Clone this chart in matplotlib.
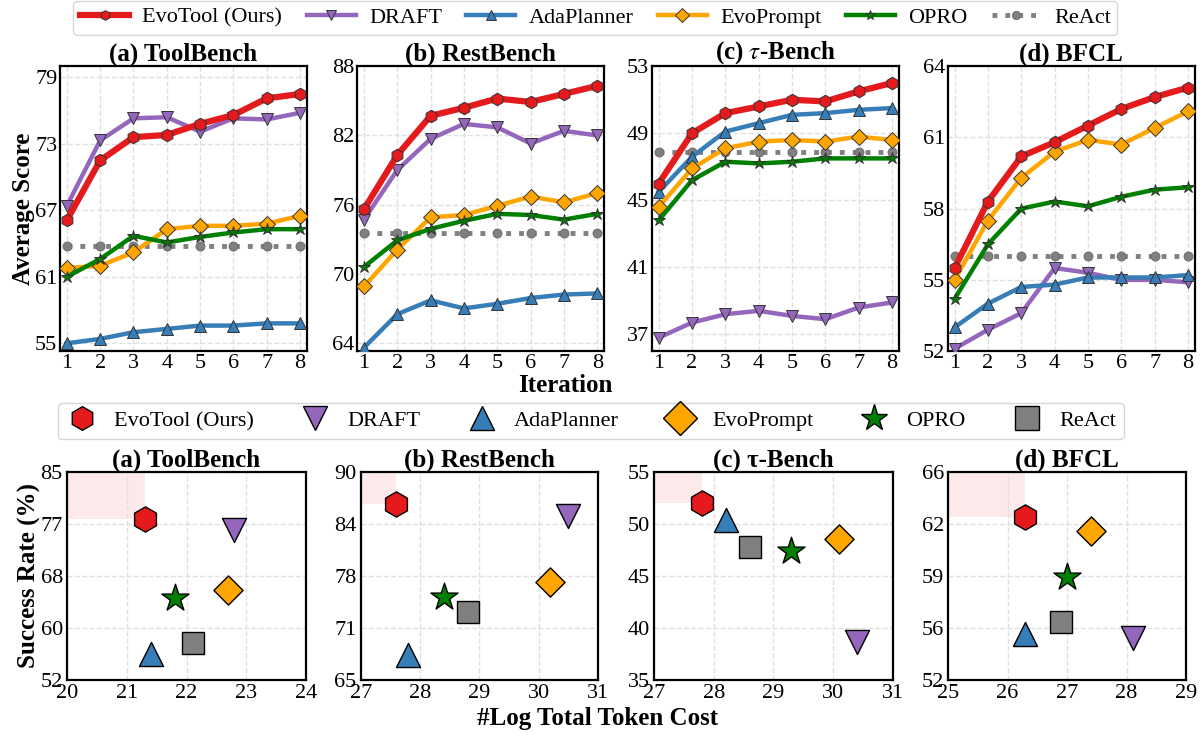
import matplotlib
matplotlib.use("Agg")
import matplotlib.pyplot as plt
from matplotlib.patches import Rectangle
from matplotlib.lines import Line2D

plt.rcParams['font.family'] = ['Liberation Serif', 'DejaVu Serif']
plt.rcParams['mathtext.fontset'] = 'stix'

# ---- data: score over iterations ----
iterations = [1, 2, 3, 4, 5, 6, 7, 8]
methods = ["EvoTool (Ours)", "DRAFT", "AdaPlanner", "EvoPrompt", "OPRO", "ReAct"]

toolbench_scores = {
    "EvoTool (Ours)": [66.1, 71.5, 73.6, 73.8, 74.8, 75.6, 77.1, 77.5],
    "DRAFT": [67.4, 73.3, 75.3, 75.4, 74.1, 75.3, 75.2, 75.8],
    "AdaPlanner": [55.0, 55.4, 56.0, 56.3, 56.6, 56.6, 56.8, 56.8],
    "EvoPrompt": [61.8, 62.0, 63.2, 65.3, 65.6, 65.6, 65.8, 66.5],
    "OPRO": [61.0, 62.6, 64.7, 64.1, 64.6, 65.0, 65.3, 65.3],
    "ReAct": [63.8] * 8,
}
restbench_scores = {
    "EvoTool (Ours)": [75.6, 80.3, 83.7, 84.4, 85.2, 84.9, 85.6, 86.3],
    "DRAFT": [74.7, 79.0, 81.7, 83.0, 82.7, 81.3, 82.4, 82.0],
    "AdaPlanner": [63.6, 66.5, 67.7, 67.0, 67.4, 67.9, 68.2, 68.3],
    "EvoPrompt": [68.9, 72.1, 74.9, 75.1, 75.9, 76.7, 76.2, 77.0],
    "OPRO": [70.6, 72.9, 73.9, 74.6, 75.2, 75.1, 74.7, 75.2],
    "ReAct": [73.5] * 8,
}
taubench_scores = {
    "EvoTool (Ours)": [46.0, 49.0, 50.2, 50.6, 51.0, 50.9, 51.5, 52.0],
    "DRAFT": [36.8, 37.7, 38.2, 38.4, 38.1, 37.9, 38.6, 38.9],
    "AdaPlanner": [45.5, 47.6, 49.1, 49.6, 50.1, 50.2, 50.4, 50.5],
    "EvoPrompt": [44.6, 46.9, 48.1, 48.5, 48.6, 48.5, 48.8, 48.6],
    "OPRO": [43.8, 46.2, 47.3, 47.2, 47.3, 47.5, 47.5, 47.5],
    "ReAct": [47.9] * 8,
}
bfcl_scores = {
    "EvoTool (Ours)": [55.5, 58.3, 60.2, 60.8, 61.5, 62.2, 62.7, 63.1],
    "DRAFT": [52.1, 52.9, 53.6, 55.5, 55.3, 55.0, 55.0, 54.9],
    "AdaPlanner": [53.0, 54.0, 54.7, 54.8, 55.1, 55.1, 55.1, 55.2],
    "EvoPrompt": [55.0, 57.5, 59.3, 60.4, 60.9, 60.7, 61.4, 62.1],
    "OPRO": [54.2, 56.5, 58.0, 58.3, 58.1, 58.5, 58.8, 58.9],
    "ReAct": [56.0] * 8,
}

# ---- data: success rate vs log token cost ----
toolbench_cost = [21.3, 22.8, 21.4, 22.7, 21.8, 22.1]
toolbench_rate = [77.5, 75.8, 56.2, 66.3, 65.0, 57.9]
restbench_cost = [27.6, 30.5, 27.8, 30.2, 28.4, 28.8]
restbench_rate = [86.2, 84.7, 68.0, 76.8, 75.0, 73.2]
taubench_cost = [27.8, 30.4, 28.2, 30.1, 29.3, 28.6]
taubench_rate = [52.0, 38.7, 50.4, 48.6, 47.4, 47.8]
bfcl_cost = [26.3, 28.1, 26.3, 27.4, 27.0, 26.9]
bfcl_rate = [63.0, 54.8, 55.1, 62.0, 58.9, 55.9]

colors = {
    "EvoTool (Ours)": "#e41a1c",
    "DRAFT": "#9467bd",
    "AdaPlanner": "#377eb8",
    "EvoPrompt": "#ffa500",
    "OPRO": "#008000",
    "ReAct": "#808080",
}
markers = {
    "EvoTool (Ours)": "h",
    "DRAFT": "v",
    "AdaPlanner": "^",
    "EvoPrompt": "D",
    "OPRO": "*",
    "ReAct": "o",
}
scatter_markers = dict(markers, ReAct="s")
scatter_sizes = {
    "EvoTool (Ours)": 330,
    "DRAFT": 300,
    "AdaPlanner": 300,
    "EvoPrompt": 220,
    "OPRO": 420,
    "ReAct": 240,
}

fig = plt.figure(figsize=(12.03, 7.36), dpi=100)

# top row: line charts
top_panels = [
    ("(a) ToolBench", toolbench_scores, (54.3, 80.0), [55, 61, 67, 73, 79]),
    ("(b) RestBench", restbench_scores, (63.3, 88.0), [64, 70, 76, 82, 88]),
    ("(c) $\\tau$-Bench", taubench_scores, (36.0, 53.0), [37, 41, 45, 49, 53]),
    ("(d) BFCL", bfcl_scores, (52.0, 64.0), [52, 55, 58, 61, 64]),
]
top_lefts = [0.050, 0.297, 0.542, 0.788]

for left, (title, scores, ylim, yticks) in zip(top_lefts, top_panels):
    ax = fig.add_axes([left, 0.523, 0.205, 0.387])
    for m in methods:
        if m == "ReAct":
            ax.plot(iterations, scores[m], linestyle=':', color=colors[m], lw=3.5,
                    marker='o', ms=6.5, mfc=colors[m], mec='#666666', mew=0.6, zorder=2)
        else:
            lw = 4.5 if m == "EvoTool (Ours)" else 3.2
            ms = 9 if m in ("EvoTool (Ours)", "OPRO") else 8
            ax.plot(iterations, scores[m], color=colors[m], lw=lw, marker=markers[m],
                    ms=ms, mfc=colors[m], mec='#333333', mew=0.7,
                    zorder=4 if m == "EvoTool (Ours)" else 3)
    ax.set_xlim(0.8, 8.2)
    ax.set_ylim(*ylim)
    ax.set_xticks(iterations)
    ax.set_yticks(yticks)
    ax.tick_params(labelsize=16, length=0, pad=2)
    ax.grid(True, linestyle='--', color='#e0e0e0', lw=1)
    ax.set_axisbelow(True)
    for s in ax.spines.values():
        s.set_linewidth(1.6)
        s.set_color('black')
    ax.set_title(title, fontsize=18, fontweight='bold', pad=4)
    if left == top_lefts[0]:
        ax.set_ylabel("Average Score", fontsize=18, fontweight='bold', labelpad=0)

# bottom row: scatter charts
bottom_panels = [
    ("(a) ToolBench", toolbench_cost, toolbench_rate, (20, 24), (52, 85)),
    ("(b) RestBench", restbench_cost, restbench_rate, (27, 31), (65, 90)),
    ("(c) τ-Bench", taubench_cost, taubench_rate, (27, 31), (35, 55)),
    ("(d) BFCL", bfcl_cost, bfcl_rate, (25, 29), (52, 66)),
]
bottom_lefts = [0.0557, 0.300, 0.5436, 0.788]
bottom_widths = [0.1987, 0.197, 0.1987, 0.198]

for left, width, (title, cost, rate, xlim, ylim) in zip(bottom_lefts, bottom_widths, bottom_panels):
    ax = fig.add_axes([left, 0.0761, width, 0.2826])
    ax.set_xlim(*xlim)
    ax.set_ylim(*ylim)
    # highlight region better than EvoTool
    ax.add_patch(Rectangle((xlim[0], rate[0]), cost[0] - xlim[0], ylim[1] - rate[0],
                           facecolor='#e41a1c', alpha=0.09, lw=0, zorder=0))
    for i, m in enumerate(methods):
        ax.scatter(cost[i], rate[i], s=scatter_sizes[m], marker=scatter_markers[m],
                   c=colors[m], edgecolors='black', linewidths=1.0, zorder=3)
    ax.set_xticks(range(xlim[0], xlim[1] + 1))
    yt = [ylim[0] + k * (ylim[1] - ylim[0]) / 4 for k in range(5)]
    ax.set_yticks(yt)
    ax.set_yticklabels([f"{v:.0f}" for v in yt])
    ax.tick_params(labelsize=16, length=0, pad=3)
    ax.grid(True, linestyle='--', color='#e0e0e0', lw=1)
    ax.set_axisbelow(True)
    for s in ax.spines.values():
        s.set_linewidth(1.6)
        s.set_color('black')
    ax.set_title(title, fontsize=18, fontweight='bold', pad=4)
    if left == bottom_lefts[0]:
        ax.set_ylabel("Success Rate (%)", fontsize=18, fontweight='bold', labelpad=0)

fig.text(0.470, 0.476, "Iteration", fontsize=18, fontweight='bold', ha='center', va='center')
fig.text(0.497, 0.024, "#Log Total Token Cost", fontsize=18, fontweight='bold',
         ha='center', va='center')

# legends
line_handles = []
for m in methods:
    if m == "ReAct":
        h = Line2D([], [], color=colors[m], ls=':', lw=3.5, marker='o', ms=6,
                   mec='#666666', mew=0.6)
    else:
        h = Line2D([], [], color=colors[m], lw=4.5 if m == "EvoTool (Ours)" else 3.2,
                   marker=markers[m], ms=7, mec='#333333', mew=0.7)
    line_handles.append(h)
fig.legend(line_handles, methods, loc='center', bbox_to_anchor=(0.495, 0.976), ncol=6,
           fontsize=16, frameon=True, fancybox=True, edgecolor='#cccccc',
           handlelength=2.2, columnspacing=1.1, handletextpad=0.6, borderpad=0.3)

scatter_handles = [Line2D([], [], ls='', marker=scatter_markers[m],
                          ms=20 if m == "OPRO" else 17,
                          mfc=colors[m], mec='black', mew=1.0) for m in methods]
fig.legend(scatter_handles, methods, loc='center', bbox_to_anchor=(0.491, 0.428), ncol=6,
           fontsize=16, frameon=True, fancybox=True, edgecolor='#cccccc',
           handlelength=1.5, columnspacing=2.0, handletextpad=0.7, borderpad=0.35)

fig.savefig("out.png", dpi=100, facecolor='white')
